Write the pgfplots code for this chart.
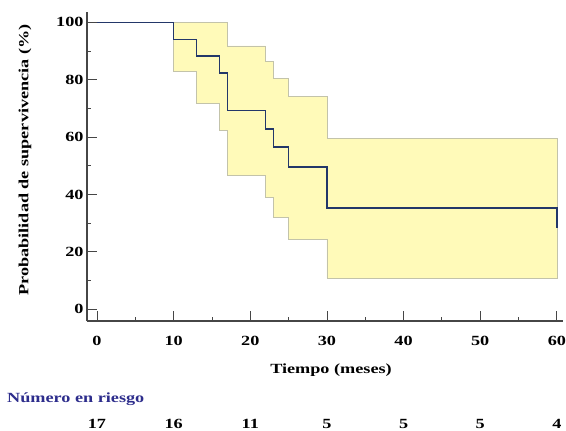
\documentclass[border=0pt]{standalone}
\usepackage{fontspec}
\setmainfont{Liberation Serif}[FakeStretch=1.3]
\usepackage{pgfplots}
\pgfplotsset{compat=1.18}
\definecolor{kmline}{RGB}{35,55,105}
\definecolor{bandfill}{RGB}{255,250,185}
\definecolor{bandedge}{RGB}{195,195,170}
\definecolor{axisgray}{RGB}{70,70,70}
\definecolor{riskblue}{RGB}{45,45,140}
\newcommand\lblfont{\fontsize{14}{16}\selectfont\bfseries}

\begin{document}
\begin{tikzpicture}[x=1pt,y=1pt]
\useasboundingbox (0,0) rectangle (566,-431);
\begin{axis}[
    at={(87pt,-321pt)}, anchor=south west,
    width=476pt, height=309pt, scale only axis,
    xmin=-1.3, xmax=60.8,
    ymin=-4.1, ymax=103.6,
    axis lines=left,
    axis line style={-, axisgray, line width=1.5pt},
    xtick={0,10,...,60}, minor x tick num=1,
    ytick={0,20,...,100}, minor y tick num=1,
    tick align=inside,
    major tick length=10pt, minor tick length=4pt,
    tick style={axisgray, line width=0.8pt},
    /pgf/number format/assume math mode=true,
    xticklabel style={font=\lblfont, yshift=-12pt},
    yticklabel style={font=\lblfont},
    clip=false,
]

% banda de confianza
\addplot[fill=bandfill, draw=bandedge, line width=0.6pt] coordinates {
    (10,100) (17,100) (17,91.8) (22,91.8) (22,86.5) (23,86.5) (23,80.5)
    (25,80.5) (25,74.1) (30,74.1) (30,59.6) (60,59.6)
    (60,10.8) (30,10.8) (30,24.4) (25,24.4) (25,32.1) (23,32.1) (23,39.0)
    (22,39.0) (22,46.6) (17,46.6) (17,62.5) (16,62.5) (16,71.8) (13,71.8)
    (13,83.0) (10,83.0)
} -- cycle;

% curva de Kaplan-Meier
\addplot[const plot, kmline, line width=1.5pt] coordinates {
    (0,100) (10,94.1) (13,88.2) (16,82.4) (17,69.2) (22,62.9) (23,56.5)
    (25,49.6) (30,35.3) (60,35.3) (60,28.3)
};

% numero en riesgo
\node[font=\lblfont] at (axis cs:0,-40) {17};
\node[font=\lblfont] at (axis cs:10,-40) {16};
\node[font=\lblfont] at (axis cs:20,-40) {11};
\node[font=\lblfont] at (axis cs:30,-40) {5};
\node[font=\lblfont] at (axis cs:40,-40) {5};
\node[font=\lblfont] at (axis cs:50,-40) {5};
\node[font=\lblfont] at (axis cs:60,-40) {4};
\end{axis}

\node[font=\lblfont] at (331,-370) {Tiempo (meses)};
\node[font=\lblfont, rotate=90] at (25,-160) {Probabilidad de supervivencia (\%)};
\node[font=\lblfont, text=riskblue, anchor=west, inner sep=0pt] at (7,-399) {Número en riesgo};
\end{tikzpicture}
\end{document}
